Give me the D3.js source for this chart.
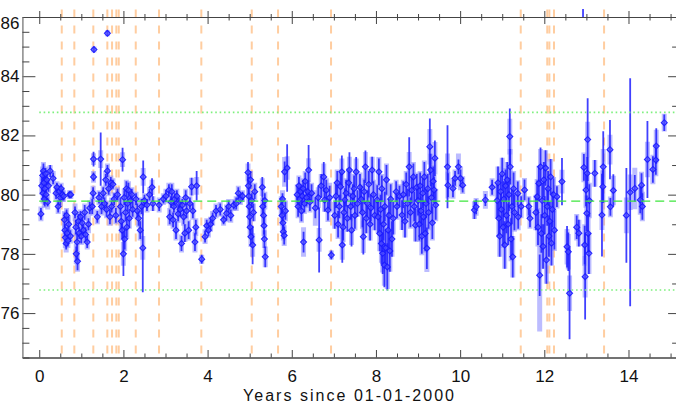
<!DOCTYPE html>
<html><head><meta charset="utf-8">
<script src="https://cdn.jsdelivr.net/npm/d3@7"></script>
<style>body{margin:0;background:#fff}svg{display:block}</style>
</head><body>
<svg id="c" width="676" height="403"></svg>
<script>
// ---- data (years since 2000, measured value, statistical error, total/systematic error) ----
const years = [
 0.04,0.06,0.08,0.09,0.10,0.11,0.12,0.13,0.15,0.16,0.18,0.20,0.22,0.26,0.33,
 0.40,0.42,0.45,0.48,0.50,0.52,0.55,0.58,
 0.60,0.61,0.62,0.64,0.65,0.66,0.68,0.70,0.72,0.75,0.74,
 0.85,0.87,0.88,0.90,0.91,0.93,0.95,0.98,1.00,1.02,1.05,1.08,1.10,1.14,1.17,1.20,
 1.26,1.28,1.29,1.29,1.30,1.38,1.42,1.46,1.48,
 1.52,1.55,1.58,1.60,1.62,1.62,1.65,1.68,1.70,1.72,1.75,1.78,1.82,1.86,
 1.93,1.95,1.97,1.98,2.00,2.02,2.03,2.05,2.07,2.08,2.10,2.12,2.14,2.17,2.20,2.22,
 2.30,2.33,2.36,2.40,2.43,2.46,2.47,2.50,2.56,2.62,2.68,2.70,
 2.85,2.95,3.01,
 3.08,3.10,3.13,3.15,3.18,3.20,3.22,3.25,3.27,3.30,3.32,3.35,3.38,3.40,3.43,3.46,3.48,3.50,3.55,3.58,3.62,3.65,3.70,3.72,3.74,3.86,
 3.94,3.98,4.02,4.07,4.12,4.20,4.30,4.38,4.45,4.50,4.55,4.62,
 4.68,4.73,4.78,4.83,
 4.96,4.97,4.98,4.99,5.00,5.01,5.02,5.03,5.05,5.07,5.09,5.12,
 5.30,5.31,5.33,5.34,5.35,5.37,5.36,
 5.83,5.89,5.75,5.77,5.79,5.80,5.82,5.85,5.78,
 6.13,6.15,6.17,6.19,6.21,6.23,6.25,6.27,6.28,6.30,6.32,6.35,6.38,6.40,6.43,6.47,6.56,
 6.63,6.65,6.70,6.76,6.78,6.82,6.86,6.90,6.94,
 7.02,7.05,7.08,7.10,7.13,7.16,7.19,7.20,7.22,7.24,7.26,7.29,7.32,7.35,7.37,7.40,7.42,7.45,7.48,7.50,7.53,7.56,
 7.62,7.65,7.68,7.70,7.72,7.75,7.77,7.80,7.83,7.86,7.88,7.91,7.94,7.97,
 8.03,8.05,8.07,8.09,8.11,8.13,8.14,8.16,8.18,8.20,8.21,8.23,8.25,8.27,8.29,8.31,8.33,8.35,8.38,8.41,
 8.48,8.50,8.56,8.62,8.65,8.69,8.72,8.75,8.79,8.82,8.85,8.89,8.91,8.94,8.97,
 9.00,9.03,9.05,9.07,9.09,9.11,9.13,9.15,9.17,9.19,9.21,9.23,9.25,9.28,9.30,9.32,9.34,9.36,9.38,9.40,9.42,
 9.70,9.71,9.83,9.88,9.96,10.01,10.06,10.34,10.38,10.60,10.76,
 10.88,10.90,10.92,10.94,10.96,10.98,11.00,11.02,11.04,11.06,11.08,11.10,11.12,11.14,11.16,11.18,11.19,11.21,11.23,11.25,11.27,11.29,
 11.37,11.38,11.45,11.53,11.63,11.66,
 11.80,11.83,11.85,11.87,11.89,11.91,11.93,11.95,11.97,11.99,12.01,12.03,12.05,12.07,12.09,12.11,12.13,12.15,12.17,12.19,12.22,12.24,
 12.30,12.42,12.54,12.57,12.60,12.77,12.82,
 12.92,12.94,12.96,12.97,12.99,13.01,13.02,13.03,13.04,13.06,13.07,
 13.20,13.37,13.39,13.40,13.56,13.57,13.64,
 13.95,14.04,14.15,14.28,14.31,14.33,14.45,14.58,14.65,14.66,14.85
];
const values = [
 79.35,80.30,80.65,80.05,80.80,80.40,79.85,80.20,80.70,80.00,80.50,79.75,80.30,80.80,80.55,
 80.05,80.25,79.60,80.10,79.90,80.20,80.00,79.95,
 79.15,78.80,78.55,78.35,79.30,78.70,78.45,79.00,80.00,80.00,78.60,
 79.40,78.90,78.00,78.40,77.75,79.10,78.70,79.25,78.60,79.05,78.80,79.40,78.65,78.40,79.00,79.55,
 79.60,80.05,80.60,81.20,84.90,79.25,79.90,81.20,79.60,
 80.05,79.70,80.50,79.50,85.45,80.80,80.20,79.25,80.40,79.60,80.35,79.85,79.30,80.00,
 79.60,79.10,78.80,81.18,78.00,79.90,78.50,79.40,80.20,78.90,79.70,80.15,79.20,79.80,80.00,79.50,
 79.85,79.45,79.20,78.80,79.60,78.20,80.60,79.80,79.65,80.00,80.25,79.70,
 79.65,79.85,79.95,
 80.15,79.25,79.75,80.10,79.15,79.60,79.85,78.80,79.95,79.35,79.70,79.50,78.35,79.65,79.25,78.70,79.90,79.45,78.80,79.70,80.27,79.45,78.40,78.90,80.30,77.82,
 78.58,78.95,78.80,79.00,79.20,79.45,79.50,79.15,79.37,79.60,79.30,79.65,
 79.70,80.05,79.85,79.95,
 80.75,80.30,79.95,79.60,79.25,78.90,80.50,78.58,79.80,78.30,79.40,80.10,
 80.25,79.60,79.30,78.95,78.50,77.90,79.80,
 80.77,80.90,79.60,79.30,79.05,78.75,78.62,79.45,79.85,
 80.00,79.60,80.30,79.85,80.10,79.45,79.95,80.20,78.40,79.70,80.45,79.90,80.10,80.83,79.75,80.05,79.55,
 79.90,78.47,80.30,80.60,79.82,80.15,79.48,79.90,77.96,
 79.30,79.95,80.40,79.00,79.60,80.27,80.77,78.30,78.90,79.40,79.82,80.05,79.20,80.40,80.83,79.60,78.80,79.95,80.20,79.30,80.77,79.70,
 80.25,79.85,79.40,78.58,80.10,80.94,79.20,79.70,80.35,79.00,79.55,80.83,80.00,79.30,
 79.82,79.25,80.77,78.69,79.50,78.35,80.20,78.02,79.00,77.62,79.60,78.20,80.50,77.56,78.80,79.30,78.10,79.85,78.50,79.20,
 80.10,79.60,79.95,79.31,80.00,79.10,80.35,79.70,80.94,79.40,80.15,80.60,79.60,78.97,80.25,
 79.80,79.00,80.30,79.45,78.60,80.05,79.25,80.60,78.69,79.70,78.19,80.20,79.40,81.62,80.83,79.90,79.05,80.45,80.16,81.23,79.65,
 80.94,80.32,80.21,80.55,80.94,80.55,80.32,79.48,79.59,79.82,80.25,
 79.80,80.40,79.20,78.60,80.10,79.50,80.70,78.90,79.85,78.30,80.30,79.30,80.50,79.00,80.00,81.96,80.94,78.50,79.60,77.90,80.20,79.40,
 80.04,79.25,79.60,80.16,79.60,79.20,
 79.40,79.93,78.90,80.38,77.28,80.94,78.69,79.80,78.25,80.50,79.30,80.90,77.79,79.60,80.20,78.60,79.10,80.60,78.36,79.50,80.00,78.80,
 79.93,80.44,78.24,78.07,76.67,78.90,78.70,
 86.60,80.92,78.30,77.23,80.16,79.37,80.72,81.86,78.69,78.02,79.80,
 80.72,79.31,80.27,80.94,81.52,79.59,80.14,
 79.30,80.08,80.21,79.82,80.32,79.60,81.19,80.85,81.17,81.64,82.43
];
const errStat = [
 0.20,0.25,0.20,0.30,0.25,0.20,0.20,0.60,0.20,0.20,0.20,0.15,0.20,0.20,0.20,
 0.20,0.15,0.20,0.20,0.25,0.15,0.20,0.15,
 0.25,0.20,0.25,0.20,0.20,0.20,0.20,0.25,0.10,0.10,0.20,
 0.20,0.25,0.25,0.30,0.30,0.25,0.20,0.20,0.25,0.20,0.20,0.25,0.25,0.20,0.20,0.20,
 0.25,0.20,0.15,0.25,0.10,0.20,0.20,0.90,0.25,
 0.20,0.20,0.20,0.25,0.10,0.20,0.20,0.25,0.20,0.20,0.15,0.20,0.25,0.20,
 0.30,0.30,0.30,0.40,0.75,0.25,0.35,0.30,0.25,0.35,0.25,0.25,0.30,0.25,0.20,0.25,
 0.20,0.25,0.25,0.30,0.25,1.50,0.55,0.20,0.20,0.20,0.30,0.25,
 0.20,0.15,0.20,
 0.20,0.25,0.20,0.25,0.25,0.20,0.20,0.30,0.20,0.25,0.20,0.25,0.25,0.20,0.25,0.30,0.25,0.25,0.30,0.20,0.30,0.25,0.30,0.25,0.50,0.15,
 0.20,0.20,0.20,0.20,0.20,0.20,0.20,0.15,0.25,0.20,0.20,0.15,
 0.20,0.20,0.15,0.15,
 0.35,0.30,0.30,0.30,0.35,0.30,0.30,0.30,0.25,0.65,0.30,0.25,
 0.35,0.30,0.30,0.30,0.30,0.35,0.25,
 0.35,0.80,0.30,0.30,0.25,0.25,0.30,0.30,0.20,
 0.30,0.35,0.30,0.30,0.25,0.35,0.30,0.30,0.35,0.30,0.30,0.30,0.35,0.85,0.30,0.30,0.35,
 0.40,1.10,0.40,0.50,0.40,0.35,0.35,0.40,0.15,
 0.45,0.40,0.40,0.45,0.40,0.50,0.55,0.60,0.45,0.45,0.40,0.45,0.45,0.45,0.60,0.45,0.55,0.40,0.45,0.45,0.50,0.45,
 0.45,0.45,0.50,0.60,0.40,0.55,0.50,0.45,0.45,0.55,0.45,0.45,0.45,0.50,
 0.50,0.55,0.45,0.60,0.50,0.70,0.45,0.70,0.55,0.75,0.50,0.65,0.50,0.80,0.60,0.55,0.70,0.50,0.60,0.55,
 0.35,0.40,0.35,0.50,0.45,0.55,0.40,0.50,1.00,0.50,0.45,0.45,0.50,0.55,0.45,
 0.50,0.55,0.45,0.50,0.60,0.50,0.55,0.50,0.60,0.50,0.70,0.50,0.55,0.95,0.55,0.50,0.55,0.50,0.45,0.60,0.50,
 1.40,0.40,0.30,0.25,0.25,0.30,0.25,0.30,0.25,0.20,0.25,
 0.60,0.55,0.60,0.70,0.55,0.60,0.55,0.65,0.60,0.80,0.55,0.60,0.60,0.70,0.55,0.95,0.60,0.70,0.60,0.70,0.55,0.60,
 0.40,0.40,0.35,0.35,0.30,0.30,
 0.60,0.55,0.60,0.60,0.70,0.65,0.65,0.60,0.75,0.60,0.65,0.60,0.80,0.65,0.60,0.70,0.65,0.60,0.75,0.60,0.55,0.65,
 0.35,0.80,0.70,0.65,1.55,0.40,0.45,
 0.62,0.45,0.65,1.45,0.55,0.60,0.55,1.40,0.65,0.70,0.55,
 0.45,1.40,0.55,1.20,1.00,0.30,0.55,
 1.60,3.85,0.45,0.45,0.40,0.45,1.30,0.45,0.50,0.60,0.28
];
const errSys = [
 0.25,0.30,0.30,0.35,0.30,0.25,0.30,0.40,0.25,0.30,0.20,0.25,0.25,0.20,0.25,
 0.25,0.20,0.25,0.20,0.30,0.20,0.25,0.20,
 0.30,0.25,0.35,0.30,0.25,0.30,0.25,0.30,0.15,0.15,0.25,
 0.30,0.30,0.35,0.35,0.35,0.30,0.30,0.25,0.30,0.30,0.25,0.30,0.30,0.25,0.30,0.25,
 0.30,0.25,0.20,0.20,0.10,0.25,0.25,0.30,0.30,
 0.25,0.30,0.30,0.30,0.10,0.25,0.25,0.30,0.25,0.30,0.20,0.25,0.30,0.25,
 0.35,0.40,0.35,0.25,0.40,0.30,0.40,0.35,0.30,0.40,0.30,0.30,0.35,0.30,0.25,0.30,
 0.25,0.30,0.30,0.35,0.30,0.40,0.30,0.25,0.25,0.25,0.25,0.25,
 0.25,0.20,0.25,
 0.25,0.30,0.25,0.30,0.30,0.25,0.30,0.35,0.25,0.30,0.25,0.30,0.30,0.25,0.30,0.30,0.30,0.30,0.35,0.25,0.30,0.30,0.35,0.30,0.30,0.15,
 0.25,0.25,0.25,0.25,0.25,0.25,0.25,0.20,0.30,0.25,0.25,0.20,
 0.25,0.25,0.20,0.20,
 0.30,0.35,0.35,0.35,0.40,0.35,0.30,0.35,0.30,0.40,0.30,0.30,
 0.30,0.30,0.35,0.35,0.30,0.35,0.30,
 0.50,0.40,0.35,0.35,0.35,0.30,0.35,0.35,0.30,
 0.35,0.40,0.35,0.35,0.30,0.40,0.35,0.35,0.50,0.35,0.35,0.35,0.40,0.40,0.35,0.35,0.60,
 0.35,0.40,0.40,0.45,0.40,0.40,0.40,0.50,0.15,
 0.45,0.45,0.45,0.50,0.40,0.45,0.45,0.50,0.50,0.45,0.45,0.50,0.45,0.50,0.45,0.50,0.50,0.45,0.50,0.50,0.45,0.45,
 0.50,0.50,0.55,0.55,0.45,0.50,0.50,0.50,0.50,0.55,0.50,0.45,0.50,0.50,
 0.55,0.55,0.50,0.60,0.55,0.65,0.50,0.65,0.60,0.70,0.55,0.70,0.55,0.75,0.60,0.55,0.70,0.55,0.60,0.55,
 0.40,0.45,0.40,0.50,0.50,0.55,0.45,0.55,0.50,0.55,0.50,0.50,0.55,0.55,0.50,
 0.55,0.60,0.50,0.55,0.65,0.55,0.60,0.55,0.65,0.55,0.80,0.55,0.60,0.60,0.55,0.55,0.60,0.55,0.50,0.55,0.55,
 0.45,0.45,0.35,0.30,0.45,0.40,0.30,0.30,0.30,0.30,0.30,
 0.60,0.55,0.65,0.70,0.60,0.60,0.55,0.70,0.60,0.80,0.60,0.65,0.60,0.70,0.60,0.60,0.60,0.75,0.65,0.70,0.60,0.65,
 0.45,0.45,0.40,0.40,0.35,0.35,
 0.60,0.60,0.65,0.60,1.90,0.60,0.65,0.60,0.75,0.60,0.65,0.60,0.80,0.65,0.60,0.70,0.65,0.60,0.75,0.65,0.60,0.70,
 0.40,0.40,0.60,0.60,0.60,0.45,0.45,
 0.10,0.50,0.70,0.70,0.60,0.60,0.55,0.60,0.70,0.70,0.60,
 0.45,0.50,0.55,0.60,0.50,0.35,0.50,
 0.60,0.60,0.70,0.50,0.45,0.50,0.60,0.50,0.55,0.55,0.30
];
const eventYears = [0.535,0.834,1.285,1.618,1.73,1.832,1.889,2.293,2.846,3.851,5.049,5.674,6.933,11.44,12.07,12.12,12.23,13.42];
const meanLevel = 79.78, upperLevel = 82.78, lowerLevel = 76.78;
const xTickValues = [0,2,4,6,8,10,12,14];
const yTickValues = [76,78,80,82,84,86];
const xLabel = "Years since 01-01-2000";

if (![values,errStat,errSys].every(a => a.length === years.length)) throw new Error("length mismatch");

// ---- chart ----
const svg = d3.select("#c");
const x = d3.scaleLinear().domain([-0.4, 15.25]).range([22.4, 681.1]);
const y = d3.scaleLinear().domain([74.5, 86]).range([357.5, 17]);
const X0 = x.range()[0], X1 = x.range()[1], Y0 = y.range()[0], Y1 = y.range()[1];
const font = "'Liberation Sans', Arial, sans-serif";
const axisColor = "#444";

const xMinor = d3.range(0, 15.01, 0.5).filter(v => !xTickValues.includes(v));
const yMinor = d3.range(74.5, 86.01, 0.5).filter(v => !yTickValues.includes(v));

svg.append("defs").append("clipPath").attr("id", "clip")
  .append("rect").attr("x", X0).attr("y", 9).attr("width", X1 - X0).attr("height", Y0 - 9);

// event lines
svg.append("g").selectAll("line").data(eventYears).join("line")
  .attr("x1", d => x(d)).attr("x2", d => x(d))
  .attr("y1", y(86.25)).attr("y2", Y0)
  .attr("stroke", "#ffcda0").attr("stroke-width", 2)
  .attr("stroke-dasharray", "8,8");

// data
const idx = d3.range(years.length);
const gData = svg.append("g").attr("clip-path", "url(#clip)");
gData.selectAll("line.sys").data(idx).join("line").attr("class","sys")
  .attr("x1", i => x(years[i])).attr("x2", i => x(years[i]))
  .attr("y1", i => y(values[i] + errSys[i])).attr("y2", i => y(values[i] - errSys[i]))
  .attr("stroke", "#9090ff").attr("stroke-width", 5).attr("stroke-opacity", 0.6);
gData.selectAll("line.stat").data(idx).join("line").attr("class","stat")
  .attr("x1", i => x(years[i])).attr("x2", i => x(years[i]))
  .attr("y1", i => y(values[i] + errStat[i])).attr("y2", i => y(values[i] - errStat[i]))
  .attr("stroke", "#1e1eff").attr("stroke-width", 1.8).attr("stroke-opacity", 0.85);
gData.selectAll("path.pt").data(idx).join("path").attr("class","pt")
  .attr("d", i => { const cx = x(years[i]), cy = y(values[i]), r = 3;
     return `M${cx},${cy-r}L${cx+r},${cy}L${cx},${cy+r}L${cx-r},${cy}Z`; })
  .attr("fill", "#5050ff").attr("fill-opacity", 0.65)
  .attr("stroke", "#1a1aff").attr("stroke-width", 1.1).attr("stroke-opacity", 0.9);

// reference levels
svg.append("line").attr("x1", x(0)).attr("x2", X1).attr("y1", y(meanLevel)).attr("y2", y(meanLevel))
  .attr("stroke", "#3ee63e").attr("stroke-width", 1.4).attr("stroke-dasharray", "9,5");
[upperLevel, lowerLevel].forEach(v => svg.append("line")
  .attr("x1", x(0)).attr("x2", X1).attr("y1", y(v)).attr("y2", y(v))
  .attr("stroke", "#7ef07e").attr("stroke-width", 1.6).attr("stroke-dasharray", "1.6,2.8"));

// axes
function styleAxis(g) {
  g.selectAll("path.domain").attr("stroke", axisColor);
  g.selectAll(".tick line").attr("stroke", axisColor);
  g.selectAll(".tick text").attr("fill", "#111").style("font-family", font).style("font-size", "17px");
}
// bottom
svg.append("g").attr("transform", `translate(0,${Y0})`)
  .call(d3.axisBottom(x).tickValues(xTickValues).tickFormat(d3.format("d")).tickSize(-7.5).tickSizeOuter(0).tickPadding(12.5))
  .call(styleAxis);
svg.append("g").attr("transform", `translate(0,${Y0})`)
  .call(d3.axisBottom(x).tickValues(xMinor).tickFormat("").tickSize(-4).tickSizeOuter(0))
  .call(styleAxis);
// top
const gt = svg.append("g").attr("transform", `translate(0,${Y1})`)
  .call(d3.axisTop(x).tickValues(xTickValues).tickFormat("").tickSize(-7).tickSizeOuter(0)).call(styleAxis);
gt.selectAll(".tick line").attr("y1", -6);
const gt2 = svg.append("g").attr("transform", `translate(0,${Y1})`)
  .call(d3.axisTop(x).tickValues(xMinor).tickFormat("").tickSize(-3.5).tickSizeOuter(0)).call(styleAxis);
gt2.selectAll(".tick line").attr("y1", -3);
// left
const gl = svg.append("g").attr("transform", `translate(${X0},0)`)
  .call(d3.axisLeft(y).tickValues(yTickValues).tickFormat(d3.format("d")).tickSize(-13).tickSizeOuter(0).tickPadding(3))
  .call(styleAxis);
gl.select("path.domain").attr("stroke", "#888");
gl.selectAll(".tick text").filter(d => d === 86).attr("transform", "translate(0,6)");
svg.append("g").attr("transform", `translate(${X0},0)`)
  .call(d3.axisLeft(y).tickValues(yMinor).tickFormat("").tickSize(-7).tickSizeOuter(0))
  .call(styleAxis).select("path.domain").attr("stroke", "#888");
// right
svg.append("g").attr("transform", `translate(${X1},0)`)
  .call(d3.axisRight(y).tickValues(yTickValues).tickFormat("").tickSize(-13).tickSizeOuter(0)).call(styleAxis);
svg.append("g").attr("transform", `translate(${X1},0)`)
  .call(d3.axisRight(y).tickValues(d3.range(75, 86, 1).filter(v => !yTickValues.includes(v))).tickFormat("").tickSize(-9).tickSizeOuter(0)).call(styleAxis);

// x label
svg.append("text").attr("x", 348.5).attr("y", 400.5).attr("text-anchor", "middle")
  .attr("textLength", 211).attr("lengthAdjust", "spacing")
  .style("font-family", font).style("font-size", "16px").attr("fill", "#111")
  .text(xLabel);
</script>
</body></html>
